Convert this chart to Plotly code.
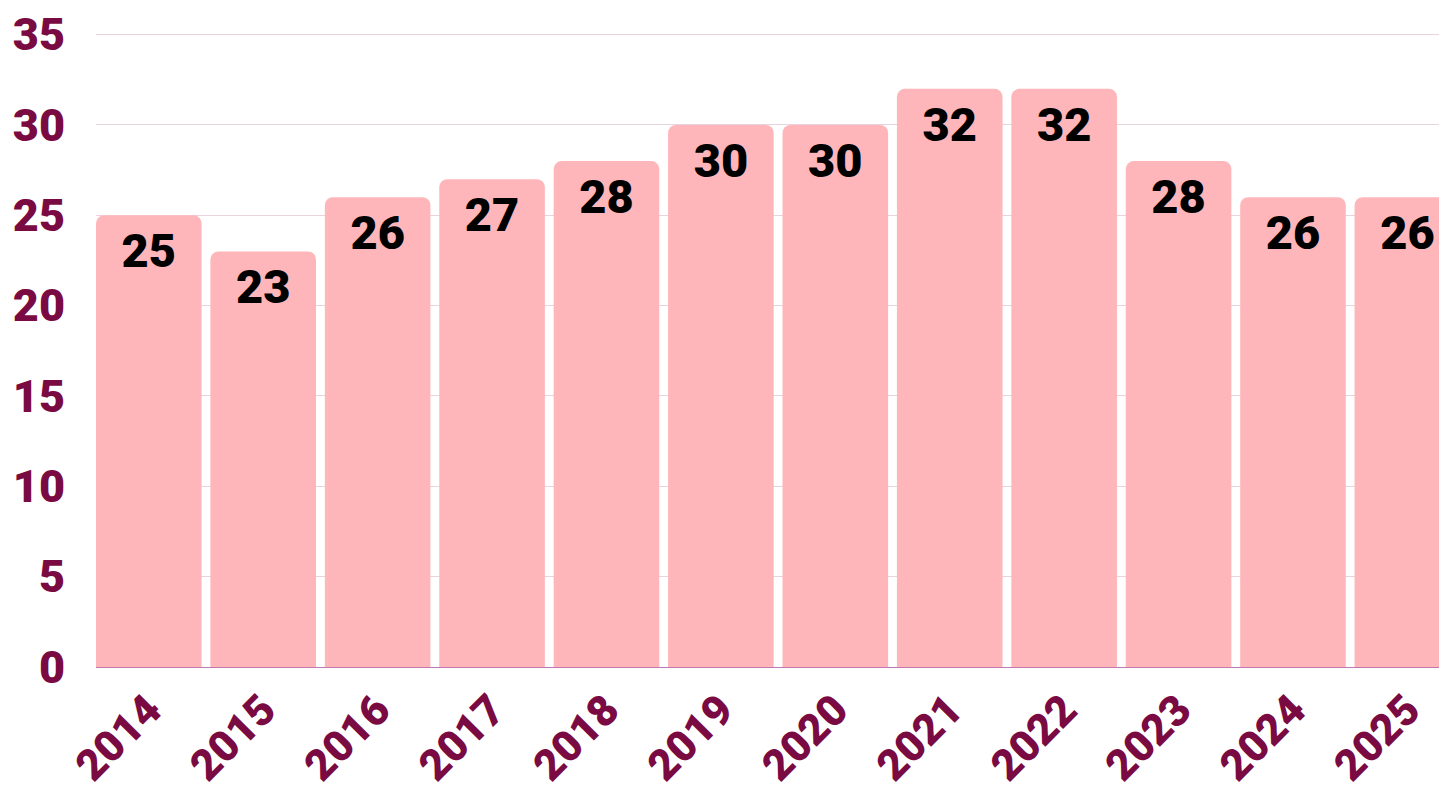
import plotly.graph_objects as go

years = ["2014", "2015", "2016", "2017", "2018", "2019", "2020", "2021", "2022", "2023", "2024", "2025"]
values = [25, 23, 26, 27, 28, 30, 30, 32, 32, 28, 26, 26]
y_ticks = [0, 5, 10, 15, 20, 25, 30, 35]

maroon = "#7A0A42"
fontfam = "Roboto, 'Liberation Sans', sans-serif"

fig = go.Figure(go.Bar(
    x=list(range(len(years))),
    y=values,
    text=[str(v) for v in values],
    textposition="inside",
    insidetextanchor="end",
    textangle=0,
    textfont=dict(family=fontfam, size=47, color="#000000", weight=900),
    marker=dict(color="#FFB6BA", cornerradius=8, line=dict(width=0)),
    hoverinfo="skip",
))

fig.update_layout(
    width=1447, height=799,
    margin=dict(l=88, r=0, t=21, b=140, pad=0),
    plot_bgcolor="#FFFFFF", paper_bgcolor="#FFFFFF",
    bargap=0.077,
    showlegend=False,
    uniformtext=dict(minsize=30, mode="show"),
)
fig.update_xaxes(
    tickmode="array", tickvals=list(range(len(years))), ticktext=years,
    range=[-0.4615, 11.416],
    tickangle=-45,
    tickfont=dict(family=fontfam, size=43, color=maroon, weight=900),
    ticklabelstandoff=8,
    showgrid=False, ticks="", showline=False, zeroline=False,
)
fig.update_yaxes(
    range=[0, 35.2],
    tickmode="array", tickvals=y_ticks,
    tickfont=dict(family=fontfam, size=45, color=maroon, weight=900),
    ticklabeloverflow="allow",
    showgrid=True, gridcolor="#E9D3DE", gridwidth=1,
    zeroline=True, zerolinecolor="#C27AAE", zerolinewidth=1,
    ticks="", ticklabelstandoff=30, showline=False,
)

fig.write_html("out.html")
